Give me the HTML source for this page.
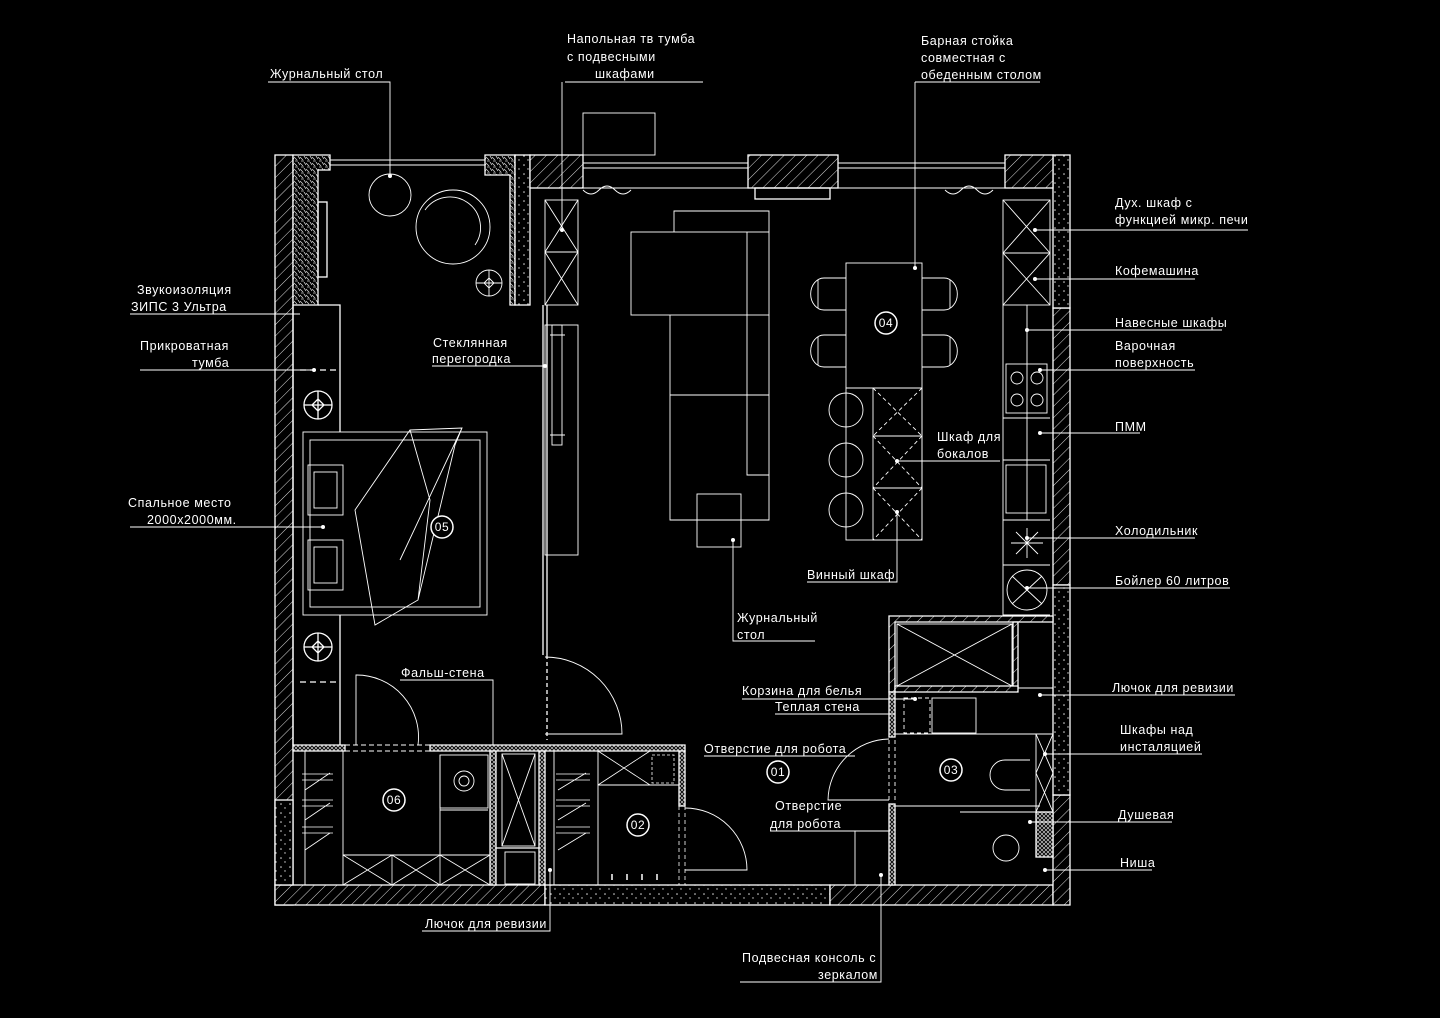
<!DOCTYPE html>
<html><head><meta charset="utf-8"><style>
html,body{margin:0;padding:0;background:#000;}
svg{display:block}
text{font-family:"Liberation Sans",sans-serif;font-size:12.5px;fill:#fff;letter-spacing:0.6px}
.n{font-size:12px;text-anchor:middle;dominant-baseline:central}
</style></head><body>
<svg width="1440" height="1018" viewBox="0 0 1440 1018" xmlns="http://www.w3.org/2000/svg">
<defs>
<pattern id="h" width="8" height="8" patternUnits="userSpaceOnUse" patternTransform="rotate(45)">
<rect width="8" height="8" fill="#000"/><line x1="0" y1="0" x2="0" y2="8" stroke="#ddd" stroke-width="1"/></pattern>
<pattern id="d" width="9" height="9" patternUnits="userSpaceOnUse">
<rect width="9" height="9" fill="#000"/><circle cx="2" cy="3" r="0.8" fill="#ddd"/><circle cx="6" cy="7" r="0.7" fill="#ddd"/></pattern>
<pattern id="i" width="6" height="6" patternUnits="userSpaceOnUse">
<rect width="6" height="6" fill="#000"/><path d="M0 1 L3 4 M4 0 L6 3 M1 5 L4 5" stroke="#ccc" stroke-width="0.8"/></pattern>
<pattern id="x" width="4" height="4" patternUnits="userSpaceOnUse">
<rect width="4" height="4" fill="#000"/><path d="M0 0 L4 4 M4 0 L0 4" stroke="#ccc" stroke-width="0.7"/></pattern>
</defs>
<rect width="1440" height="1018" fill="#000"/>
<g stroke="#fff" stroke-width="1.3" fill="none">
<!-- outer walls -->
<rect x="275" y="155" width="18" height="750" fill="url(#h)"/>
<rect x="275" y="885" width="270" height="20" fill="url(#h)"/>
<rect x="545" y="885" width="285" height="20" fill="url(#d)"/>
<rect x="830" y="885" width="223" height="20" fill="url(#h)"/>
<rect x="1053" y="795" width="17" height="110" fill="url(#h)"/>
<rect x="1053" y="308" width="17" height="277" fill="url(#h)"/>
<rect x="1053" y="155" width="17" height="153" fill="url(#d)"/>
<rect x="1053" y="585" width="17" height="210" fill="url(#d)"/>
<rect x="275" y="800" width="18" height="85" fill="url(#d)"/>
<!-- top left -->
<path d="M293 155 H330 V170 H318 V305 H293 Z" fill="url(#i)"/>
<rect x="318" y="202" width="9" height="75"/>
<path d="M485 155 H515 V305 H510 V175 H485 Z" fill="url(#i)"/>
<rect x="515" y="155" width="15" height="150" fill="url(#d)"/>
<rect x="530" y="155" width="53" height="33" fill="url(#h)"/>
<rect x="748" y="155" width="90" height="33" fill="url(#h)"/>
<rect x="755" y="188" width="75" height="11"/>
<rect x="1005" y="155" width="48" height="33" fill="url(#h)"/>
<path d="M330 160 H485 M330 165 H485 M583 163 H748 M583 168 H748 M838 163 H1005 M838 168 H1005 M583 188 H748 M838 188 H1005" stroke-width="0.9"/>
<path d="M583 190 q8 8 16 0 q8 -8 16 0 q8 8 16 0 M945 190 q8 8 16 0 q8 -8 16 0 q8 8 16 0" stroke-width="0.9"/>
<rect x="583" y="113" width="72" height="42" stroke-width="0.9"/>
<!-- bedroom -->
<path d="M293 305 V745 M318 305 H340 V432 M543 305 V655 M547 305 V655"/>
<path d="M300 370 H340" stroke-dasharray="6 4"/>
<circle cx="318" cy="405" r="14"/><path d="M318 391 V419 M304 405 H332 M318 399 L324 405 L318 411 L312 405 Z"/>
<circle cx="318" cy="647" r="14"/><path d="M318 633 V661 M304 647 H332 M318 641 L324 647 L318 653 L312 647 Z"/>
<path d="M300 682 H340" stroke-dasharray="6 4"/><path d="M340 615 V745"/>
<rect x="303" y="432" width="184" height="183" stroke-width="0.9"/>
<rect x="310" y="440" width="170" height="167" stroke-width="0.9"/>
<rect x="308" y="465" width="35" height="50" stroke-width="0.9"/><rect x="314" y="472" width="23" height="36" stroke-width="0.9"/>
<rect x="308" y="540" width="35" height="50" stroke-width="0.9"/><rect x="314" y="547" width="23" height="36" stroke-width="0.9"/>
<path d="M410 430 L462 428 L455 445 L418 600 L375 625 L355 510 Z M410 430 L430 500 L418 600 M462 428 L400 560" stroke-width="0.9"/>
<circle cx="390" cy="195" r="21" stroke-width="0.9"/>
<circle cx="453" cy="227" r="37" stroke-width="0.9"/><path d="M425 210 A28 28 0 1 1 475 245" stroke-width="0.9"/>
<circle cx="489" cy="283" r="13" stroke-width="0.9"/><path d="M489 270 V296 M476 283 H502 M489 278 L494 283 L489 288 L484 283 Z" stroke-width="0.9"/>
<!-- glass partition -->
<rect x="552" y="325" width="10" height="120" stroke-width="0.9"/><path d="M550 335 H565 M550 435 H565" stroke-width="0.9"/>
<!-- wardrobe & cabinet -->
<rect x="545" y="200" width="33" height="105" stroke-width="0.9"/><path d="M545 200 L578 252 M578 200 L545 252 M545 252 H578 M545 252 L578 305 M578 252 L545 305" stroke-width="0.9"/>
<rect x="545" y="325" width="33" height="230" stroke-width="0.9"/>
<!-- door living -->
<path d="M547 655 V740" stroke-dasharray="4 3"/>
<path d="M545 657 A77 77 0 0 1 622 734 H545" stroke-width="0.9"/>
<!-- sofa -->
<g stroke-width="0.9">
<rect x="631" y="232" width="138" height="83"/><path d="M674 232 V211 H769 V232 M670 315 V520 H769 V315 M747 232 V475 H769 M670 395 H769"/>
<rect x="697" y="494" width="44" height="53"/>
<!-- dining -->
<rect x="846" y="263" width="76" height="125"/>
<rect x="846" y="388" width="76" height="152"/>
<rect x="873" y="388" width="49" height="152"/>
<path d="M873 388 L922 436 M922 388 L873 436 M873 436 L922 488 M922 436 L873 488 M873 488 L922 540 M922 488 L873 540" stroke-dasharray="4 3"/>
<path d="M873 436 H922 M873 488 H922"/>
<circle cx="846" cy="410" r="17"/><circle cx="846" cy="460" r="17"/><circle cx="846" cy="510" r="17"/>
<path d="M846 278 h-22 a10 12 0 0 0 0 32 h22 M818 280 v28 M846 335 h-22 a10 12 0 0 0 0 32 h22 M818 337 v28 M922 278 h22 a10 12 0 0 1 0 32 h-22 M950 280 v28 M922 335 h22 a10 12 0 0 1 0 32 h-22 M950 337 v28"/>
<!-- kitchen -->
<rect x="1003" y="200" width="47" height="53"/><path d="M1003 200 L1050 253 M1050 200 L1003 253"/>
<rect x="1003" y="253" width="47" height="52"/><path d="M1003 253 L1050 305 M1050 253 L1003 305"/>
<path d="M1003 305 V615 H1050 M1003 418 H1050 M1003 460 H1050 M1003 520 H1050 M1003 565 H1050 M1027 305 V520"/>
<rect x="1006" y="364" width="41" height="49"/>
<circle cx="1017" cy="378" r="6"/><circle cx="1037" cy="378" r="6"/><circle cx="1017" cy="400" r="6"/><circle cx="1037" cy="400" r="6"/>
<rect x="1006" y="465" width="40" height="48"/>
<path d="M1027 528 V558 M1011 543 H1043 M1016 532 L1038 554 M1038 532 L1016 554"/>
<circle cx="1027" cy="590" r="20"/><path d="M1012 576 L1042 604 M1042 576 L1012 604"/>
</g>
<!-- bathroom upper -->
<path d="M889 616 H1053 V622 H895 V692 H889 Z" fill="url(#h)"/>
<rect x="1013" y="622" width="5" height="66" fill="url(#h)"/>
<path d="M895 686 H1018 V692 H895 Z" fill="url(#h)"/>
<rect x="897" y="624" width="115" height="62" stroke-width="0.9"/><path d="M897 624 L1012 686 M1012 624 L897 686" stroke-width="0.9"/>
<path d="M1018 688 H1053" stroke-width="0.9"/>
<!-- bathroom 03 -->
<rect x="889" y="692" width="6" height="45" fill="url(#x)"/>
<rect x="889" y="804" width="6" height="81" fill="url(#x)"/>
<path d="M889 740 V800 M895 740 V800" stroke-dasharray="4 3" stroke-width="0.9"/>
<path d="M895 734 H1053 M895 806 H1040 M960 812 H1040" stroke-width="0.9"/>
<rect x="904" y="698" width="26" height="35" stroke-dasharray="4 3" stroke-width="0.9"/>
<rect x="932" y="698" width="44" height="35" stroke-width="0.9"/>
<path d="M889 739 A62 62 0 0 0 828 800 H889" stroke-width="0.9"/>
<rect x="1036" y="734" width="17" height="78" stroke-width="0.9"/><path d="M1036 734 L1053 773 M1053 734 L1036 773 M1036 773 L1053 812 M1053 773 L1036 812" stroke-width="0.9"/>
<rect x="1036" y="812" width="17" height="45" fill="url(#x)"/>
<path d="M1030 760 H1005 a15 15 0 0 0 0 30 H1030" stroke-width="0.9"/>
<circle cx="1006" cy="848" r="13" stroke-width="0.9"/>
<!-- partition walls bottom -->
<path d="M293 745 H345 V751 H293 Z" fill="url(#x)"/>
<path d="M430 745 H685 V751 H430 Z" fill="url(#x)"/>
<path d="M345 745 H430 M345 751 H430" stroke-dasharray="5 3" stroke-width="0.9"/>
<rect x="490" y="751" width="6" height="134" fill="url(#x)"/>
<rect x="539" y="751" width="6" height="134" fill="url(#x)"/>
<rect x="679" y="751" width="6" height="55" fill="url(#x)"/>
<path d="M356 745 V675 A62 62 0 0 1 418 745" stroke-width="0.9"/>
<rect x="502" y="754" width="33" height="92" stroke-width="0.9"/><path d="M502 754 L535 846 M535 754 L502 846" stroke-width="0.9"/>
<path d="M496 848 H539" fill="url(#x)"/><rect x="505" y="852" width="30" height="32" stroke-width="0.9"/>
<!-- room 06 furniture -->
<path d="M343 751 V885 M305 751 V885 M343 855 H490 M440 755 V855 M440 810 H488" stroke-width="0.9"/>
<rect x="440" y="755" width="48" height="53" stroke-width="0.9"/>
<circle cx="464" cy="781" r="10" stroke-width="0.9"/><circle cx="464" cy="781" r="5" stroke-width="0.9"/>
<path d="M343 855 L392 885 M392 855 L343 885 M392 855 L440 885 M440 855 L392 885 M440 855 L490 885 M490 855 L440 885 M392 855 V885 M440 855 V885" stroke-width="0.8"/>
<path d="M302 774 H333 M302 780 H333 M302 800 H333 M302 806 H333 M302 827 H333 M302 833 H333 M305 790 L330 773 M305 820 L330 803 M305 850 L330 833" stroke-width="0.8"/>
<!-- room 02 -->
<path d="M598 751 V885 M598 785 H679 M554 751 V885" stroke-width="0.9"/>
<path d="M598 751 L650 785 M650 751 L598 785" stroke-width="0.8"/>
<rect x="652" y="755" width="22" height="28" stroke-dasharray="3 2" stroke-width="0.8"/>
<path d="M556 774 H590 M556 780 H590 M556 800 H590 M556 806 H590 M556 827 H590 M556 833 H590 M558 790 L586 773 M558 820 L586 803 M558 850 L586 833" stroke-width="0.8"/>
<path d="M612 880 v-6 M627 880 v-6 M642 880 v-6 M657 880 v-6" stroke-width="1.5"/>
<path d="M685 808 A62 62 0 0 1 747 870 H685" stroke-width="0.9"/>
<path d="M685 806 V885 M679 806 V885" stroke-dasharray="4 3" stroke-width="0.8"/>
<!-- leaders -->
<g stroke-width="0.9">
<path d="M268 82 H390 V174"/>
<path d="M565 82 H703 M562 82 V230"/>
<path d="M915 82 H1040 M915 82 V268"/>
<path d="M1035 230 H1248 M1035 279 H1195 M1027 330 H1222 M1040 370 H1195 M1040 433 H1140 M1027 538 H1195 M1027 588 H1230 M1040 695 H1235 M1045 754 H1202 M1030 822 H1172 M1045 870 H1152"/>
<path d="M130 314 H300 M140 370 H315 M130 527 H323"/>
<path d="M432 366 H545 M733 540 V641 H815 M807 582 H897 V512 M897 461 H1000"/>
<path d="M400 680 H493 V745 M742 699 H915 M775 714 H895 M704 756 H855 M855 831 H890 M770 831 H855 V885"/>
<path d="M422 931 H550 V870 M740 982 H881 V875"/>
</g>
</g>
<g fill="#fff">
<circle cx="390" cy="176" r="2"/><circle cx="562" cy="230" r="2"/><circle cx="915" cy="268" r="2"/>
<circle cx="1035" cy="230" r="2"/><circle cx="1035" cy="279" r="2"/><circle cx="1027" cy="330" r="2"/><circle cx="1040" cy="370" r="2"/><circle cx="1040" cy="433" r="2"/><circle cx="1027" cy="538" r="2"/><circle cx="1027" cy="588" r="2"/><circle cx="1040" cy="695" r="2"/><circle cx="1045" cy="754" r="2"/><circle cx="1030" cy="822" r="2"/><circle cx="1045" cy="870" r="2"/>
<circle cx="314" cy="370" r="2"/><circle cx="323" cy="527" r="2"/><circle cx="545" cy="366" r="2"/><circle cx="733" cy="540" r="2"/><circle cx="897" cy="512" r="2"/><circle cx="897" cy="461" r="2"/><circle cx="915" cy="699" r="2"/><circle cx="881" cy="875" r="2"/><circle cx="550" cy="870" r="2"/>
</g>
<g stroke="#fff" stroke-width="1.5" fill="#000">
<circle cx="442" cy="527" r="11"/><circle cx="886" cy="323" r="11"/><circle cx="778" cy="772" r="11"/><circle cx="951" cy="770" r="11"/><circle cx="394" cy="800" r="11"/><circle cx="638" cy="825" r="11"/>
</g>
<text class="n" x="442" y="527">05</text><text class="n" x="886" y="323">04</text><text class="n" x="778" y="772">01</text><text class="n" x="951" y="770">03</text><text class="n" x="394" y="800">06</text><text class="n" x="638" y="825">02</text>
<text x="270" y="78">Журнальный стол</text>
<text x="567" y="43">Напольная тв тумба</text><text x="567" y="61">с подвесными</text><text x="595" y="78">шкафами</text>
<text x="921" y="45">Барная стойка</text><text x="921" y="62">совместная с</text><text x="921" y="79">обеденным столом</text>
<text x="1115" y="207">Дух. шкаф с</text><text x="1115" y="224">функцией микр. печи</text>
<text x="1115" y="275">Кофемашина</text><text x="1115" y="327">Навесные шкафы</text>
<text x="1115" y="350">Варочная</text><text x="1115" y="367">поверхность</text>
<text x="1115" y="431">ПММ</text><text x="1115" y="535">Холодильник</text><text x="1115" y="585">Бойлер 60 литров</text>
<text x="1112" y="692">Лючок для ревизии</text><text x="1120" y="734">Шкафы над</text><text x="1120" y="751">инсталяцией</text>
<text x="1118" y="819">Душевая</text><text x="1120" y="867">Ниша</text>
<text x="137" y="294">Звукоизоляция</text><text x="131" y="311">ЗИПС 3 Ультра</text>
<text x="140" y="350">Прикроватная</text><text x="192" y="367">тумба</text>
<text x="128" y="507">Спальное место</text><text x="147" y="524">2000х2000мм.</text>
<text x="433" y="347">Стеклянная</text><text x="432" y="363">перегородка</text>
<text x="737" y="622">Журнальный</text><text x="737" y="639">стол</text>
<text x="807" y="579">Винный шкаф</text><text x="937" y="441">Шкаф для</text><text x="937" y="458">бокалов</text>
<text x="401" y="677">Фальш-стена</text><text x="742" y="695">Корзина для белья</text><text x="775" y="711">Теплая стена</text>
<text x="704" y="753">Отверстие для робота</text><text x="775" y="810">Отверстие</text><text x="770" y="828">для робота</text>
<text x="425" y="928">Лючок для ревизии</text><text x="742" y="962">Подвесная консоль с</text><text x="818" y="979">зеркалом</text>
</svg>
</body></html>
